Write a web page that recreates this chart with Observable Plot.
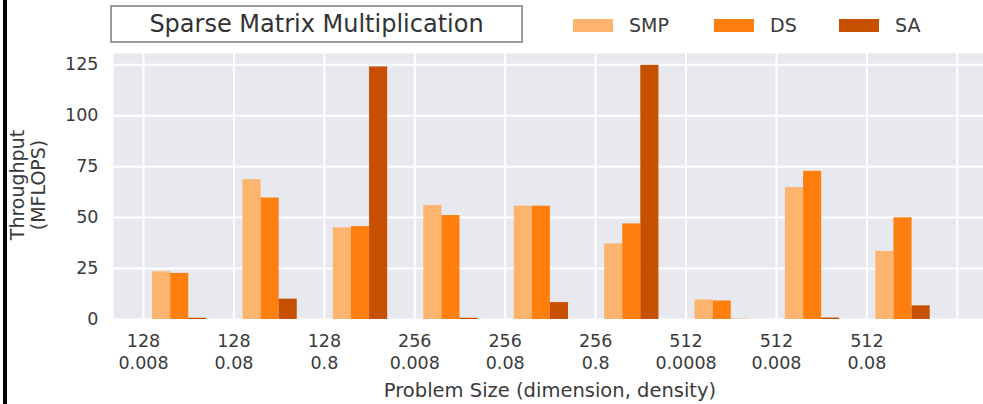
<!DOCTYPE html>
<html>
<head>
<meta charset="utf-8">
<script src="https://cdn.jsdelivr.net/npm/d3@7"></script>
<script src="https://cdn.jsdelivr.net/npm/@observablehq/plot@0.6"></script>
<style>
  html, body { margin: 0; padding: 0; background: #fff; }
  #wrap { position: relative; width: 983px; height: 404px; overflow: hidden; font-family: "DejaVu Sans", sans-serif; color: #3a3a3a; }
  #chart { position: absolute; left: 0; top: 0; }
  #edge { position: absolute; left: 3px; top: 0; width: 4px; height: 404px; background: #000; }
  #title { position: absolute; left: 110px; top: 5px; width: 409px; height: 34px; border: 2px solid #9a9a9a; background: #fff;
           font-size: 24px; line-height: 34px; text-align: center; color: #333; }
  .leg { position: absolute; top: 10px; height: 30px; display: flex; align-items: center; font-size: 19px; color: #3a3a3a; }
  .sw { width: 40px; height: 13px; margin-right: 16px; }
  #ylab { position: absolute; left: 28px; top: 185px; transform: translate(-50%, -50%) rotate(-90deg); font-size: 19px;
          line-height: 21px; text-align: center; white-space: pre; color: #3a3a3a; }
  #xlab { position: absolute; left: 550px; top: 390px; transform: translate(-50%, -50%); font-size: 19.5px; white-space: nowrap; color: #3a3a3a; }
</style>
</head>
<body>
<div id="wrap">
  <div id="chart"></div>
  <div id="edge"></div>
  <div id="title"></div>
  <div id="ylab"></div>
  <div id="xlab"></div>
</div>
<script>
const dims = [128, 128, 128, 256, 256, 256, 512, 512, 512];
const densities = ["0.008", "0.08", "0.8", "0.008", "0.08", "0.8", "0.0008", "0.008", "0.08"];
const seriesNames = ["SMP", "DS", "SA"];
const smp = [23.4, 68.6, 45.0, 56.0, 55.6, 37.1, 9.6, 64.7, 33.4];
const ds  = [22.6, 59.6, 45.6, 51.0, 55.6, 46.9, 9.1, 72.7, 49.9];
const sa  = [0.6, 10.0, 123.9, 0.6, 8.3, 124.7, 0.1, 0.7, 6.7];
const seriesColors = ["#fdb46e", "#fe7f0e", "#c64f00"];
const yTicks = [0, 25, 50, 75, 100, 125];
const titleText = "Sparse Matrix Multiplication";
const xLabel = "Problem Size (dimension, density)";
const yLabel = "Throughput\n(MFLOPS)";
const legendLeft = [573, 714, 839];

const seriesValues = [smp, ds, sa];
const data = dims.flatMap((d, i) => seriesValues.map((arr, j) => ({i, j, series: seriesNames[j], value: arr[i]})));

const chart = Plot.plot({
  width: 983,
  height: 404,
  marginLeft: 113,
  marginRight: 0,
  marginTop: 53,
  marginBottom: 85,
  x: {type: "linear", domain: [-0.332, 9.29]},
  y: {domain: [0, 130.5]},
  color: {domain: seriesNames, range: seriesColors},
  style: {fontFamily: "DejaVu Sans", fontSize: "17.5px", color: "#3a3a3a", background: "transparent"},
  marks: [
    Plot.frame({fill: "#e8e8ef", stroke: null}),
    Plot.gridX({ticks: d3.range(dims.length + 1), stroke: "white", strokeOpacity: 1, strokeWidth: 2}),
    Plot.gridY({ticks: yTicks, stroke: "white", strokeOpacity: 1, strokeWidth: 2}),
    Plot.rect(data, {
      x1: d => d.i + 0.1 + 0.2 * d.j,
      x2: d => d.i + 0.3 + 0.2 * d.j,
      y1: d => 0,
      y2: "value",
      fill: "series"
    }),
    Plot.axisX({ticks: d3.range(dims.length), tickFormat: i => `${dims[i]}\n${densities[i]}`, tickSize: 0, tickPadding: 11, lineHeight: 1.3, label: null}),
    Plot.axisY({ticks: yTicks, tickSize: 0, tickPadding: 15, label: null})
  ]
});
document.getElementById("chart").appendChild(chart);

document.getElementById("title").textContent = titleText;
document.getElementById("xlab").textContent = xLabel;
document.getElementById("ylab").textContent = yLabel;

const wrap = document.getElementById("wrap");
seriesNames.forEach((name, k) => {
  const item = document.createElement("div");
  item.className = "leg";
  item.style.left = legendLeft[k] + "px";
  const sw = document.createElement("div");
  sw.className = "sw";
  sw.style.background = seriesColors[k];
  const tx = document.createElement("span");
  tx.textContent = name;
  item.appendChild(sw);
  item.appendChild(tx);
  wrap.appendChild(item);
});
</script>
</body>
</html>
